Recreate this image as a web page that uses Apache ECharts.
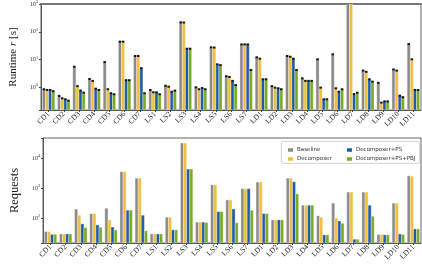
<!DOCTYPE html>
<html><head><meta charset="utf-8">
<script src="https://cdn.jsdelivr.net/npm/echarts@6/dist/echarts.min.js"></script>
<style>html,body{margin:0;padding:0;background:#fff}#c{width:422px;height:265px}</style>
</head><body><div id="c"></div>
<script>
const categories = ['CD1','CD2','CD3','CD4','CD5','CD6','CD7','LS1','LS2','LS3','LS4','LS5','LS6','LS7','LD1','LD2','LD3','LD4','LD5','LD6','LD7','LD8','LD9','LD10','LD11'];
const seriesNames = ['Baseline','Decomposer','Decomposer+PS','Decomposer+PS+PBJ'];
const runtimeBaseline = [0.85,0.49,5.5,2.0,8.1,44,13.4,0.8,1.14,218,1.0,27.5,2.5,35,12,1.1,13.4,2.1,10.2,15.4,1500,4.0,1.45,4.4,36];
const runtimeDecomposer = [0.80,0.40,1.1,1.7,0.85,44,13.4,0.66,1.05,215,0.85,27,2.35,35,10.7,0.97,12.6,1.7,0.97,0.92,1500,3.6,0.28,4.0,10.2];
const runtimePS = [0.80,0.37,0.76,0.89,0.61,1.8,4.9,0.66,0.69,24.5,0.94,6.7,1.7,35,1.94,0.92,10.7,1.7,0.37,0.69,0.57,1.94,0.31,0.5,0.8];
const runtimePBJ = [0.72,0.33,0.64,0.8,0.56,1.8,0.61,0.56,0.76,24.5,0.85,6.3,1.2,4.2,1.94,0.85,4.2,1.7,0.37,0.85,0.64,1.6,0.31,0.44,0.8];
const requestsBaseline = [36,30,200,142,215,3500,2150,30,108,31600,74,1290,407,955,1590,88,2150,270,120,316,740,740,29,316,2570];
const requestsDecomposer = [36,30,126,142,88,3500,2150,30,108,31600,74,1290,407,955,1590,88,2150,270,108,102,740,740,28,316,2500];
const requestsPS = [29,30,65,60,51,185,126,30,41,4300,74,166,204,955,142,88,1630,270,28,81,20,270,28,30,44];
const requestsPBJ = [29,30,49,50,41,185,38,30,41,4300,72,166,70,185,142,88,650,270,28,68,20,117,28,29,44];
const colors = ['#8a8a8a','#f0c03c','#1f5ca6','#78aa28'];
const runtimeMin = 0.152, runtimeMax = 1000;
const requestsMin = 15, requestsMax = 46400;

const serif = 'Liberation Serif';
function makeRender(si, yMinVal, withCap) {
  return function (params, api) {
    const idx = api.value(0), v = api.value(1);
    const p = api.coord([idx, v]);
    const a = api.coord([0, v]), b = api.coord([1, v]);
    const band = b[0] - a[0];
    const groupW = band * 0.82;
    const bw = groupW / 4;
    const x = p[0] - groupW / 2 + si * bw;
    const base = api.coord([idx, yMinVal])[1];
    const children = [{type:'rect', shape:{x:x, y:p[1], width:bw, height:base - p[1]}, style:{fill:colors[si], stroke:'#fff', lineWidth:0.35}}];
    if (withCap) children.push({type:'rect', shape:{x:x + 0.3, y:p[1] - 1, width:bw - 0.6, height:2}, style:{fill:'#151515'}});
    return {type:'group', children: children};
  };
}
function toData(arr){ return arr.map((v,i)=>[i,v]); }
const runtimeSets = [runtimeBaseline, runtimeDecomposer, runtimePS, runtimePBJ];
const requestSets = [requestsBaseline, requestsDecomposer, requestsPS, requestsPBJ];
const series = [];
runtimeSets.forEach((arr, si) => series.push({
  type:'custom', name: seriesNames[si], xAxisIndex:0, yAxisIndex:0, clip:true,
  itemStyle:{color:colors[si]}, renderItem: makeRender(si, runtimeMin, true),
  encode:{x:0,y:1}, data: toData(arr)
}));
requestSets.forEach((arr, si) => series.push({
  type:'custom', name: seriesNames[si], xAxisIndex:1, yAxisIndex:1, clip:true,
  itemStyle:{color:colors[si]}, renderItem: makeRender(si, requestsMin, false),
  encode:{x:0,y:1}, data: toData(arr)
}));
function logLabel(v){
  const e = Math.log10(v);
  if (Math.abs(e - Math.round(e)) > 1e-6) return '';
  return '{b|10}{s|' + Math.round(e) + '}';
}
const yLabel = {formatter: logLabel, margin: 3, color:'#333', rich:{b:{fontSize:6, fontFamily:serif, color:'#333'}, s:{fontSize:4.2, fontFamily:serif, color:'#333', padding:[0,0,4,0]}}};
const xAxisCommon = {
  type:'category', data: categories, boundaryGap:true,
  axisLine:{show:true, lineStyle:{color:'#444', width:0.8}},
  axisTick:{show:true, alignWithLabel:true, length:2, lineStyle:{color:'#444'}},
  axisLabel:{rotate:45, interval:0, fontSize:7.5, fontFamily:serif, color:'#222', margin:3}
};
const yAxisCommon = {
  type:'log', logBase:10,
  axisLine:{show:true, lineStyle:{color:'#444', width:0.8}},
  axisTick:{show:true, length:2, lineStyle:{color:'#444'}},
  splitLine:{show:false},
  axisLabel: yLabel,
  nameLocation:'middle', nameRotate:90
};
const option = {
  backgroundColor:'#fff',
  animation:false,
  grid:[
    {left:27, right:1, top:4, height:106, show:true, borderColor:'#666', borderWidth:1},
    {left:27, right:1, top:138, height:105, show:true, borderColor:'#666', borderWidth:1}
  ],
  xAxis:[
    Object.assign({gridIndex:0}, xAxisCommon),
    Object.assign({gridIndex:1}, xAxisCommon),
    {gridIndex:0, type:'category', data:categories, position:'top', axisLine:{show:true, lineStyle:{color:'#777', width:2.2}}, axisTick:{show:false}, axisLabel:{show:false}}
  ],
  yAxis:[
    Object.assign({gridIndex:0, min:runtimeMin, max:runtimeMax, name:'Runtime {i|r} [s]', nameGap:17,
      nameTextStyle:{fontSize:11, fontFamily:serif, color:'#222', rich:{i:{fontSize:11, fontFamily:serif, fontStyle:'italic', color:'#222'}}}}, yAxisCommon),
    Object.assign({gridIndex:1, min:requestsMin, max:requestsMax, name:'Requests', nameGap:17,
      nameTextStyle:{fontSize:12.5, fontFamily:serif, color:'#222'}}, yAxisCommon)
  ],
  legend:[
    {data:[seriesNames[0], seriesNames[1]], orient:'vertical', left:283, top:142, itemWidth:5, itemHeight:3.5, itemGap:3,
     icon:'rect', textStyle:{fontSize:5.5, fontFamily:'DejaVu Sans', color:'#333', padding:[0,0,0,-1]}},
    {data:[seriesNames[2], seriesNames[3]], orient:'vertical', left:342, top:142, itemWidth:5, itemHeight:3.5, itemGap:3,
     icon:'rect', textStyle:{fontSize:5.5, fontFamily:'DejaVu Sans', color:'#333', padding:[0,0,0,-1]}}
  ],
  graphic:[{type:'rect', left:281, top:141, shape:{width:138, height:22, r:1.5}, style:{fill:'rgba(255,255,255,0.8)', stroke:'#cccccc', lineWidth:0.8}, z:-1}],
  series: series
};
const chart = echarts.init(document.getElementById('c'), null, {renderer:'canvas'});
chart.setOption(option);
</script></body></html>
